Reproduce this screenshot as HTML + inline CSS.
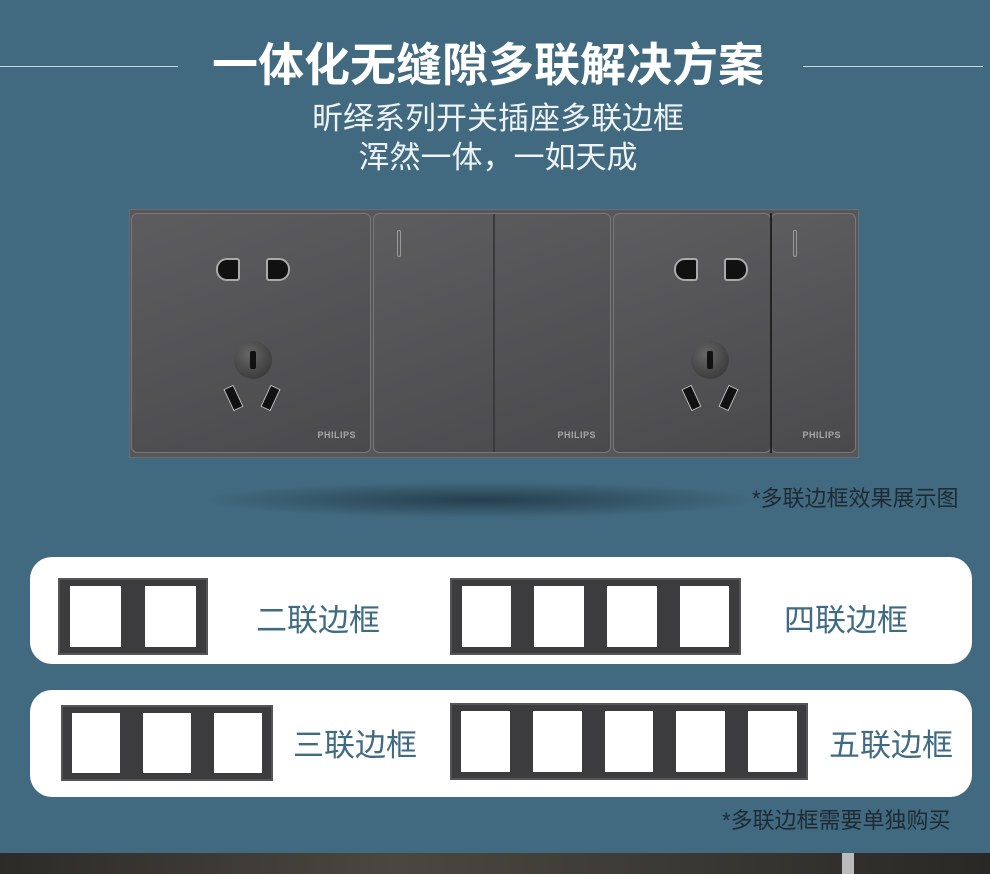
<!DOCTYPE html>
<html><head><meta charset="utf-8"><style>
*{margin:0;padding:0;box-sizing:border-box}
body{width:990px;height:874px;overflow:hidden;background:#41697f;position:relative;font-family:"Liberation Sans","Noto Sans CJK SC",sans-serif}
.a{position:absolute}
.t{color:#fff;text-align:center;left:0;width:990px}
.line{height:1px;background:#c9d6de;top:66px}
.mod{position:absolute;top:213px;height:240px;background:linear-gradient(160deg,#5d5d60,#4a4a4d);border:1px solid #78787b;border-radius:6px}
.ph{position:absolute;bottom:12px;right:14px;font-size:9px;font-weight:bold;color:#a8a8ac;letter-spacing:.5px}
.pin{position:absolute;width:24px;height:23px;background:#111;border:2px solid #aaa;border-radius:11px 3px 3px 11px}
.pin.r{border-radius:3px 11px 11px 3px}
.rnd{position:absolute;width:38px;height:38px;border-radius:50%;background:radial-gradient(circle at 40% 35%,#666,#2e2e30)}
.rnd:after{content:"";position:absolute;left:16px;top:10px;width:6px;height:18px;background:#111;border-radius:2px}
.sl{position:absolute;width:11px;height:24px;background:#111;border:1px solid #bbb}
.led{position:absolute;width:4px;height:27px;border:1px solid #999;border-radius:3px}
.card{position:absolute;left:30px;width:942px;height:107px;background:#fff;border-radius:22px}
.lab{position:absolute;font-size:31px;color:#3f6b83}
.fr{position:absolute;background:#3c3c3f;border:2px solid #555}
.fr i{position:absolute;background:#fff}
.note{position:absolute;font-size:22px;color:#1e2a33}
</style></head><body>
<div class="a line" style="left:0;width:178px"></div>
<div class="a line" style="left:803px;width:180px"></div>
<div class="a t" style="top:29px;font-size:46px;font-weight:bold;left:-7px">一体化无缝隙多联解决方案</div>
<div class="a t" style="top:93px;font-size:31px;color:#eef3f6;left:3px">昕绎系列开关插座多联边框</div>
<div class="a t" style="top:132px;font-size:31px;color:#eef3f6;left:3px">浑然一体，一如天成</div>

<div class="a" style="left:200px;top:482px;width:560px;height:36px;border-radius:50%;background:radial-gradient(ellipse,rgba(20,35,45,.6),rgba(20,35,45,0) 70%)"></div>
<div class="a" style="left:129px;top:209px;width:730px;height:249px;background:#57575a;border:1px solid #6e6e72"></div>

<div class="mod" style="left:131px;width:240px">
 <div class="pin" style="left:84px;top:44px"></div><div class="pin r" style="left:134px;top:44px"></div>
 <div class="rnd" style="left:102px;top:127px"></div>
 <div class="sl" style="left:96px;top:172px;transform:rotate(-25deg)"></div>
 <div class="sl" style="left:133px;top:172px;transform:rotate(25deg)"></div>
 <div class="ph">PHILIPS</div></div>
<div class="mod" style="left:373px;width:238px">
 <div class="led" style="left:23px;top:16px"></div>
 <div class="a" style="left:119px;top:0;width:2px;height:238px;background:#3a3a3c"></div>
 <div class="ph">PHILIPS</div></div>
<div class="mod" style="left:613px;width:158px">
 <div class="pin" style="left:60px;top:44px"></div><div class="pin r" style="left:110px;top:44px"></div>
 <div class="rnd" style="left:77px;top:127px"></div>
 <div class="sl" style="left:72px;top:172px;transform:rotate(-25deg)"></div>
 <div class="sl" style="left:109px;top:172px;transform:rotate(25deg)"></div></div>
<div class="mod" style="left:771px;width:85px">
 <div class="led" style="left:21px;top:16px"></div>
 <div class="ph">PHILIPS</div></div>
<div class="a" style="left:770px;top:213px;width:2px;height:240px;background:#222"></div>

<div class="note" style="left:752px;top:481px">*多联边框效果展示图</div>

<div class="card" style="top:557px"></div>
<div class="card" style="top:690px"></div>
<div class="lab" style="left:256px;top:595px">二联边框</div>
<div class="lab" style="left:784px;top:595px">四联边框</div>
<div class="lab" style="left:293px;top:720px">三联边框</div>
<div class="lab" style="left:829px;top:720px">五联边框</div>
<div id="frames"></div>
<div class="note" style="left:722px;top:803px">*多联边框需要单独购买</div>

<div class="a" style="left:0;top:853px;width:990px;height:21px;background:linear-gradient(90deg,#2d2b28,#4a4740 40%,#3a3833 70%,#2a2825)"></div>
<div class="a" style="left:842px;top:853px;width:12px;height:21px;background:#bbb"></div>
<script>
var F=[[58,578,150,77,2],[450,578,291,77,4],[61,705,212,76,3],[450,703,358,77,5]];
var h='';F.forEach(function(f){var c=f[2]/f[4];h+='<div class="fr" style="left:'+f[0]+'px;top:'+f[1]+'px;width:'+f[2]+'px;height:'+f[3]+'px">';
for(var k=0;k<f[4];k++){var w=c*0.68;h+='<i style="left:'+(k*c+(c-w)/2-2)+'px;top:'+(f[3]*0.11-2)+'px;width:'+w+'px;height:'+(f[3]*0.78)+'px"></i>';}
h+='</div>';});document.getElementById('frames').innerHTML=h;
</script>
</body></html>
